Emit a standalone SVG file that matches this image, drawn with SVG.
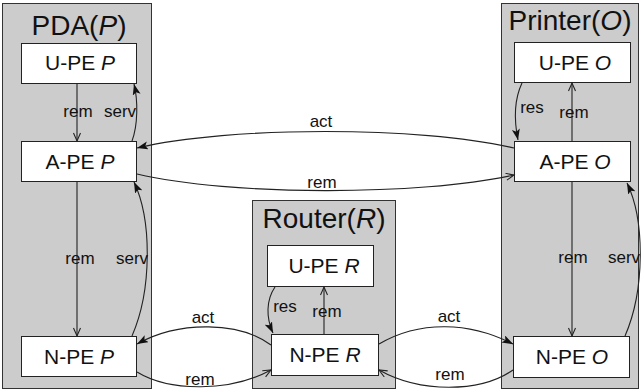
<svg xmlns="http://www.w3.org/2000/svg" width="641" height="391" viewBox="0 0 641 391">
<style>
.cont{fill:#cccccc;stroke:#333;stroke-width:1}
.node{fill:#fff;stroke:#222;stroke-width:1}
.title{font-family:"Liberation Sans",Arial,sans-serif;font-size:28px;fill:#111;text-anchor:middle}
.nt{font-family:"Liberation Sans",Arial,sans-serif;font-size:21px;fill:#111;text-anchor:middle}
.lbl{font-family:"Liberation Sans",Arial,sans-serif;font-size:17px;fill:#111;text-anchor:middle}
.e{fill:none;stroke:#222;stroke-width:1.1}
.f{marker-end:url(#fa)}
.o{marker-end:url(#oa)}
</style>
<defs>
<marker id="fa" markerUnits="userSpaceOnUse" markerWidth="12" markerHeight="10" refX="11" refY="4" orient="auto">
<path d="M0,0 L11,4 L0,8 L2.5,4 z" fill="#111"/>
</marker>
<marker id="oa" markerUnits="userSpaceOnUse" markerWidth="12" markerHeight="10" refX="9" refY="4" orient="auto">
<path d="M1,0.5 L9,4 L1,7.5" fill="none" stroke="#222" stroke-width="1.1"/>
</marker>
</defs>
<g id="PDA">
<rect class="cont" x="2.5" y="3.5" width="149" height="385"/>
<text class="title" x="79" y="35">PDA(<tspan font-style="italic">P</tspan>)</text>
</g>
<g id="Router">
<rect class="cont" x="252.5" y="200.5" width="143" height="188"/>
<text class="title" x="324" y="228">Router(<tspan font-style="italic">R</tspan>)</text>
</g>
<g id="Printer">
<rect class="cont" x="501.5" y="3.5" width="137" height="385"/>
<text class="title" x="570" y="30">Printer(<tspan font-style="italic">O</tspan>)</text>
</g>
<g id="UPE_P">
<rect class="node" x="21.5" y="43.5" width="115" height="40"/>
<text class="nt" x="80" y="70">U-PE <tspan font-style="italic">P</tspan></text>
</g>
<g id="APE_P">
<rect class="node" x="21.5" y="141.5" width="115" height="40"/>
<text class="nt" x="80" y="169">A-PE <tspan font-style="italic">P</tspan></text>
</g>
<g id="NPE_P">
<rect class="node" x="21.5" y="336.5" width="115" height="40"/>
<text class="nt" x="79" y="364">N-PE <tspan font-style="italic">P</tspan></text>
</g>
<g id="UPE_R">
<rect class="node" x="267.5" y="245.5" width="106" height="41"/>
<text class="nt" x="324" y="273">U-PE <tspan font-style="italic">R</tspan></text>
</g>
<g id="NPE_R">
<rect class="node" x="271.5" y="334.5" width="107" height="41"/>
<text class="nt" x="325" y="362">N-PE <tspan font-style="italic">R</tspan></text>
</g>
<g id="UPE_O">
<rect class="node" x="514.5" y="42.5" width="116" height="40"/>
<text class="nt" x="575" y="70">U-PE <tspan font-style="italic">O</tspan></text>
</g>
<g id="APE_O">
<rect class="node" x="514.5" y="141.5" width="116" height="40"/>
<text class="nt" x="575" y="169">A-PE <tspan font-style="italic">O</tspan></text>
</g>
<g id="NPE_O">
<rect class="node" x="513.5" y="336.5" width="116" height="41"/>
<text class="nt" x="572" y="364">N-PE <tspan font-style="italic">O</tspan></text>
</g>
<g id="connectors">
<path class="e o" d="M77,84 L77,141"/>
<path class="e f" d="M132,141 C138,125 138,100 134,84"/>
<path class="e o" d="M77,182 L77,336"/>
<path class="e f" d="M132,336 C152,290 152,220 134,182"/>
<path class="e f" d="M514,148 C420,126 230,126 137,148"/>
<path class="e o" d="M137,174 C230,196 420,196 514,175"/>
<path class="e f" d="M271,345 C240,322 180,320 137,344"/>
<path class="e o" d="M137,372 C170,392 230,392 271,370"/>
<path class="e f" d="M379,344 C420,320 470,322 513,344"/>
<path class="e o" d="M513,370 C480,393 420,393 379,370"/>
<path class="e f" d="M275,287 C266,300 266,318 273,333"/>
<path class="e o" d="M324,334 L324,287"/>
<path class="e f" d="M522,83 C514,100 514,120 518,140"/>
<path class="e o" d="M572,141 L572,83"/>
<path class="e o" d="M572,182 L572,336"/>
<path class="e f" d="M625,336 C645,290 645,220 627,183"/>
<text class="lbl" x="78" y="117">rem</text>
<text class="lbl" x="120" y="117">serv</text>
<text class="lbl" x="80" y="264">rem</text>
<text class="lbl" x="132" y="264">serv</text>
<text class="lbl" x="321" y="127">act</text>
<text class="lbl" x="322" y="188">rem</text>
<text class="lbl" x="203" y="323">act</text>
<text class="lbl" x="200" y="385">rem</text>
<text class="lbl" x="449" y="322">act</text>
<text class="lbl" x="450" y="380">rem</text>
<text class="lbl" x="285" y="312">res</text>
<text class="lbl" x="327" y="317">rem</text>
<text class="lbl" x="532" y="113">res</text>
<text class="lbl" x="574" y="118">rem</text>
<text class="lbl" x="573" y="263">rem</text>
<text class="lbl" x="624" y="263">serv</text>
</g>
</svg>
